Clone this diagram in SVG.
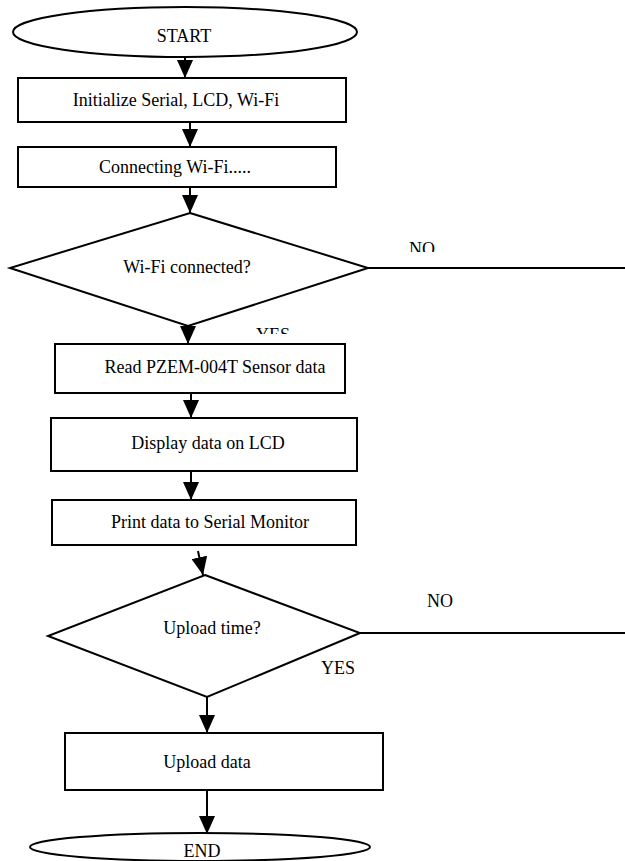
<svg xmlns="http://www.w3.org/2000/svg" width="625" height="861" viewBox="0 0 625 861">
<style>
.s{fill:#fff;stroke:#000;stroke-width:2}
.t{font-family:"Liberation Serif","Times New Roman",serif;font-size:18px;fill:#000;text-anchor:middle}
.c{stroke:#000;stroke-width:2;fill:none}
</style>
<defs>
<marker id="ah" viewBox="0 0 18 16" refX="18" refY="8" markerWidth="18" markerHeight="16" orient="auto" markerUnits="userSpaceOnUse">
<path d="M0,0 L18,8 L0,16 z" fill="#000"/>
</marker>
<clipPath id="cNo1"><rect x="380" y="200" width="100" height="52"/></clipPath>
<clipPath id="cYes1"><rect x="240" y="300" width="100" height="34"/></clipPath>
<clipPath id="cEnd"><rect x="150" y="820" width="100" height="37"/></clipPath>
</defs>
<rect width="625" height="861" fill="#fff"/>
<g id="start">
<ellipse class="s" cx="185" cy="32" rx="172" ry="25"/>
<text class="t" x="184" y="42">START</text>
</g>
<g id="init">
<rect class="s" x="18" y="78" width="328" height="44"/>
<text class="t" x="176" y="106">Initialize Serial, LCD, Wi-Fi</text>
</g>
<g id="connecting">
<rect class="s" x="18" y="147" width="318" height="40"/>
<text class="t" x="175" y="173">Connecting Wi-Fi.....</text>
</g>
<g id="wifi-check">
<polygon class="s" points="190,213 368,268 188,326 10,268"/>
<text class="t" x="187" y="273">Wi-Fi connected?</text>
</g>
<g id="read">
<rect class="s" x="55" y="344" width="290" height="49"/>
<text class="t" x="215" y="373">Read PZEM-004T Sensor data</text>
</g>
<g id="display">
<rect class="s" x="51" y="418" width="306" height="53"/>
<text class="t" x="208" y="449">Display data on LCD</text>
</g>
<g id="print">
<rect class="s" x="52" y="500" width="304" height="45"/>
<text class="t" x="210" y="528">Print data to Serial Monitor</text>
</g>
<g id="upload-check">
<polygon class="s" points="205,575 360,633 207,697 48,636"/>
<text class="t" x="212" y="634">Upload time?</text>
</g>
<g id="upload">
<rect class="s" x="65" y="733" width="318" height="57"/>
<text class="t" x="207" y="768">Upload data</text>
</g>
<g id="end">
<ellipse class="s" cx="200" cy="847" rx="170" ry="14"/>
<text class="t" x="202" y="857" clip-path="url(#cEnd)">END</text>
</g>
<g id="connectors">
<line class="c" x1="185" y1="57" x2="185" y2="78" marker-end="url(#ah)"/>
<line class="c" x1="190" y1="122" x2="190" y2="147" marker-end="url(#ah)"/>
<line class="c" x1="190" y1="187" x2="190" y2="213" marker-end="url(#ah)"/>
<line class="c" x1="188" y1="326" x2="188" y2="344" marker-end="url(#ah)"/>
<line class="c" x1="191" y1="393" x2="191" y2="418" marker-end="url(#ah)"/>
<line class="c" x1="191" y1="471" x2="191" y2="500" marker-end="url(#ah)"/>
<line class="c" x1="198" y1="551" x2="203" y2="575" marker-end="url(#ah)"/>
<line class="c" x1="207" y1="697" x2="207" y2="733" marker-end="url(#ah)"/>
<line class="c" x1="207" y1="790" x2="207" y2="834" marker-end="url(#ah)"/>
<line class="c" x1="368" y1="268" x2="625" y2="268"/>
<line class="c" x1="360" y1="633" x2="625" y2="633"/>
<text class="t" x="422" y="255" clip-path="url(#cNo1)">NO</text>
<text class="t" x="273" y="341" clip-path="url(#cYes1)">YES</text>
<text class="t" x="440" y="607">NO</text>
<text class="t" x="338" y="674">YES</text>
</g>
</svg>
